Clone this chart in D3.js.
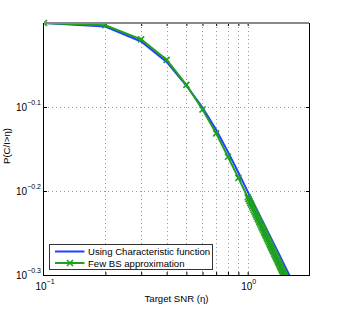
<!DOCTYPE html>
<html>
<head>
<meta charset="utf-8">
<script src="https://cdn.jsdelivr.net/npm/d3@7"></script>
<style>
body{margin:0;background:#fff;}
svg{font-family:"Liberation Sans",Arial,sans-serif;}
</style>
</head>
<body>
<script>
// values
var snrChar=[0.1,0.2,0.3,0.4,0.5,0.6,0.7,0.8,0.9,1.0,1.1,1.2,1.3,1.4,1.5,1.6,1.7]
var pChar=[1.000,0.9904,0.9506,0.8988,0.8425,0.7932,0.7461,0.7024,0.6637,0.6298,0.6015,0.5767,0.5546,0.5352,0.5172,0.5012,0.4867]

var snrFew=[0.1,0.2,0.3,0.4,0.5,0.6,0.7,0.8,0.9,
  1.00,1.01,1.02,1.03,1.04,1.05,1.06,1.07,1.08,1.09,
  1.10,1.11,1.12,1.13,1.14,1.15,1.16,1.17,1.18,1.19,
  1.20,1.21,1.22,1.23,1.24,1.25,1.26,1.27,1.28,1.29,
  1.30,1.31,1.32,1.33,1.34,1.35,1.36,1.37,1.38,1.39,
  1.40,1.41,1.42,1.43,1.44,1.45,1.46,1.47,1.48,1.49,
  1.50,1.51,1.52,1.53,1.54,1.55,1.56,1.57,1.58,1.59,1.60]
var pFew=[1.000,0.9937,0.956,0.904,0.844,0.789,0.739,0.693,0.654,
  0.6202,0.6170,0.6139,0.6108,0.6078,0.6048,0.6019,0.5990,0.5961,0.5933,
  0.5905,0.5877,0.5850,0.5824,0.5797,0.5771,0.5745,0.5720,0.5695,0.5670,
  0.5646,0.5622,0.5598,0.5575,0.5551,0.5528,0.5506,0.5483,0.5461,0.5439,
  0.5418,0.5396,0.5375,0.5354,0.5334,0.5313,0.5293,0.5273,0.5254,0.5234,
  0.5215,0.5196,0.5177,0.5158,0.5140,0.5121,0.5103,0.5085,0.5068,0.5050,
  0.5033,0.5015,0.4998,0.4981,0.4965,0.4948,0.4932,0.4916,0.4900,0.4884,0.4868]

var xMinor=[0.2,0.3,0.4,0.5,0.6,0.7,0.8,0.9,1]
var xLabels=[{v:0.1,e:'\u22121'},{v:1,e:'0'}]
var yMajor=[Math.pow(10,-0.1),Math.pow(10,-0.2)]
var yLabels=[{e:'\u22120.1'},{e:'\u22120.2'},{e:'\u22120.3'}]
var yLabelVals=[Math.pow(10,-0.1),Math.pow(10,-0.2),Math.pow(10,-0.3)]
var legendNames=['Using Characteristic function','Few BS approximation']

var W=341,H=310
var L=44,R=309,T=23,B=275
var blue='#2140ff',green='#1fa01f'

var svg=d3.select('body').append('svg').attr('width',W).attr('height',H)

var x=d3.scaleLog().domain([0.1,2]).range([L,R])
var y=d3.scaleLog().domain([Math.pow(10,-0.3),1]).range([B,T])

svg.append('rect').attr('x',L).attr('y',T).attr('width',R-L).attr('height',B-T).attr('fill','#fff')

svg.append('clipPath').attr('id','clip').append('rect').attr('x',L).attr('y',T-6).attr('width',R-L+6).attr('height',B-T+6)

// grid
var grid=svg.append('g').attr('stroke','#999').attr('stroke-width',1).attr('stroke-dasharray','1,3')
grid.selectAll('.gx').data(xMinor).enter().append('line')
  .attr('x1',d=>Math.round(x(d))+0.5).attr('x2',d=>Math.round(x(d))+0.5).attr('y1',T).attr('y2',B)
grid.selectAll('.gy').data(yMajor).enter().append('line')
  .attr('y1',d=>Math.round(y(d))+0.5).attr('y2',d=>Math.round(y(d))+0.5).attr('x1',L).attr('x2',R)

// axes (ticks only, labels drawn below)
svg.append('g').attr('transform','translate(0,'+B+')')
  .call(d3.axisBottom(x).tickValues(xMinor).tickSize(-3).tickFormat(''))
svg.append('g').attr('transform','translate(0,'+T+')')
  .call(d3.axisTop(x).tickValues(xMinor).tickSize(-3).tickFormat(''))
svg.append('g').attr('transform','translate('+L+',0)')
  .call(d3.axisLeft(y).tickValues(yMajor).tickSize(-3).tickFormat(''))
svg.append('g').attr('transform','translate('+R+',0)')
  .call(d3.axisRight(y).tickValues(yMajor).tickSize(-3).tickFormat(''))
svg.selectAll('.domain').remove()
svg.selectAll('.tick line').attr('stroke','#000')

var line=d3.line().x(d=>x(d[0])).y(d=>y(d[1]))

var plot=svg.append('g').attr('clip-path','url(#clip)')
plot.append('path').attr('d',line(d3.zip(snrChar,pChar)))
  .attr('fill','none').attr('stroke',blue).attr('stroke-width',2)
plot.append('path').attr('d',line(d3.zip(snrFew,pFew)))
  .attr('fill','none').attr('stroke',green).attr('stroke-width',2)
plot.selectAll('.mk').data(d3.zip(snrFew,pFew)).enter().append('path')
  .attr('transform',d=>'translate('+x(d[0])+','+y(d[1])+')')
  .attr('d','M-3,-3L3,3M-3,3L3,-3')
  .attr('stroke',green).attr('stroke-width',1.6).attr('fill','none')

// box
svg.append('line').attr('x1',L).attr('x2',R).attr('y1',T).attr('y2',T).attr('stroke','#888').attr('stroke-width',2)
svg.append('line').attr('x1',L).attr('x2',R).attr('y1',B+0.5).attr('y2',B+0.5).attr('stroke','#000')
svg.append('line').attr('x1',L-0.5).attr('x2',L-0.5).attr('y1',T).attr('y2',B+1).attr('stroke','#000')
svg.append('line').attr('x1',R+0.5).attr('x2',R+0.5).attr('y1',T).attr('y2',B+1).attr('stroke','#000')

// tick labels
var yl=svg.selectAll('.yl').data(yLabels).enter().append('text')
  .attr('x',41).attr('y',(d,i)=>y(yLabelVals[i])+3.5).attr('text-anchor','end')
  .attr('font-size',10).attr('fill','#000')
yl.append('tspan').text('10')
yl.append('tspan').attr('dy',-6).attr('font-size',7).text(d=>d.e)

var xl=svg.selectAll('.xl').data(xLabels).enter().append('text')
  .attr('x',d=>x(d.v)+1).attr('y',290).attr('text-anchor','middle')
  .attr('font-size',10).attr('fill','#000')
xl.append('tspan').text('10')
xl.append('tspan').attr('dy',-6).attr('font-size',7).text(d=>d.e)

// axis titles
svg.append('text').attr('x',(L+R)/2).attr('y',302).attr('text-anchor','middle')
  .attr('font-size',9.6).text('Target SNR (\u03b7)')
svg.append('text').attr('transform','translate(10,146) rotate(-90)').attr('text-anchor','middle')
  .attr('font-size',9.6).text('P(C/I>\u03b7)')

// legend
var lg=svg.append('g')
lg.append('rect').attr('x',49.5).attr('y',244.5).attr('width',163).attr('height',25)
  .attr('fill','#fff').attr('stroke','#333').attr('stroke-width',1)
var cols=[blue,green]
legendNames.forEach(function(n,i){
  var ly=i==0?251.5:263
  lg.append('line').attr('x1',55).attr('x2',84.5).attr('y1',ly).attr('y2',ly).attr('stroke',cols[i]).attr('stroke-width',2)
  if(i==1){
    lg.append('path').attr('transform','translate(70,'+ly+')').attr('d','M-3,-3L3,3M-3,3L3,-3')
      .attr('stroke',green).attr('stroke-width',1.6)
  }
  lg.append('text').attr('x',88).attr('y',ly+3.5).attr('font-size',9.6).text(n)
})
</script>
</body>
</html>
